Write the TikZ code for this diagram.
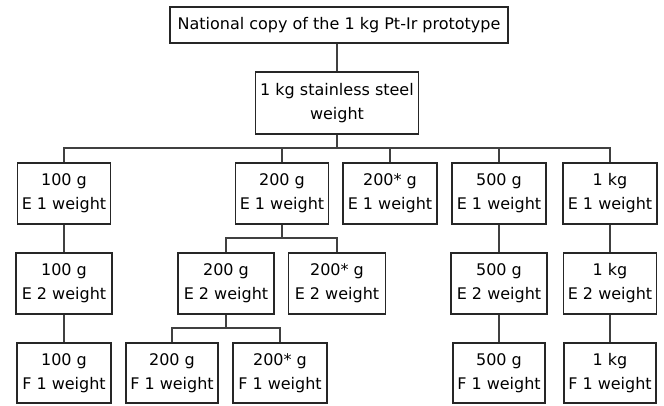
\documentclass[tikz,border=0pt]{standalone}
\usepackage{fontspec}
\setmainfont{DejaVu Sans}
\begin{document}
\begin{tikzpicture}[x=1pt,y=-1pt,
  box/.style={draw=black!85,line width=1.3pt,align=center,inner sep=0pt,
    font=\fontsize{16}{24}\selectfont,minimum height=61pt,minimum width=94pt},
  link/.style={draw=black!75,line width=1.3pt}]
\useasboundingbox (0,0) rectangle (664,405);
\node[box,minimum width=338pt,minimum height=36pt] (top) at (339,25) {National copy of the 1 kg Pt-Ir prototype};
\node[box,minimum width=163pt,minimum height=62pt] (ss) at (337,103) {1 kg stainless steel\\weight};
% row 1
\node[box,minimum width=93pt] (a1) at (64,193.5) {100 g\\E 1 weight};
\node[box,minimum width=93pt] (b1) at (282,193.5) {200 g\\E 1 weight};
\node[box] (c1) at (390,193.5) {200* g\\E 1 weight};
\node[box] (d1) at (499,193.5) {500 g\\E 1 weight};
\node[box] (e1) at (610,193.5) {1 kg\\E 1 weight};
% row 2
\node[box,minimum width=96pt] (a2) at (64,283.5) {100 g\\E 2 weight};
\node[box,minimum width=96pt] (b2) at (226,283.5) {200 g\\E 2 weight};
\node[box,minimum width=97pt] (c2) at (337,283.5) {200* g\\E 2 weight};
\node[box,minimum width=96pt] (d2) at (499,283.5) {500 g\\E 2 weight};
\node[box,minimum width=93pt] (e2) at (610,283.5) {1 kg\\E 2 weight};
% row 3
\node[box,minimum height=60pt] (a3) at (64,373) {100 g\\F 1 weight};
\node[box,minimum width=92pt,minimum height=60pt] (b3) at (172,373) {200 g\\F 1 weight};
\node[box,minimum height=60pt] (c3) at (280,373) {200* g\\F 1 weight};
\node[box,minimum width=92pt,minimum height=60pt] (d3) at (499,373) {500 g\\F 1 weight};
\node[box,minimum width=92pt,minimum height=60pt] (e3) at (610,373) {1 kg\\F 1 weight};
% buses
\coordinate (bus1) at (0,148);
\coordinate (bus2) at (0,238);
\coordinate (bus3) at (0,328);
% connectors
\draw[link] (top.south -| ss.north) -- (ss.north);
\draw[link] (ss.south) -- (ss.south |- bus1);
\draw[link] (a1.north) |- (e1.north |- bus1) -- (e1.north);
\foreach \n in {b1,c1,d1} \draw[link] (\n.north) -- (\n.north |- bus1);
\draw[link] (b1.south) -- (b1.south |- bus2);
\draw[link] (b2.north) |- (c2.north |- bus2) -- (c2.north);
\draw[link] (b2.south) -- (b2.south |- bus3);
\draw[link] (b3.north) |- (c3.north |- bus3) -- (c3.north);
\draw[link] (a1) -- (a2);
\draw[link] (a2) -- (a3);
\draw[link] (d1) -- (d2);
\draw[link] (d2) -- (d3);
\draw[link] (e1) -- (e2);
\draw[link] (e2) -- (e3);
\end{tikzpicture}
\end{document}
